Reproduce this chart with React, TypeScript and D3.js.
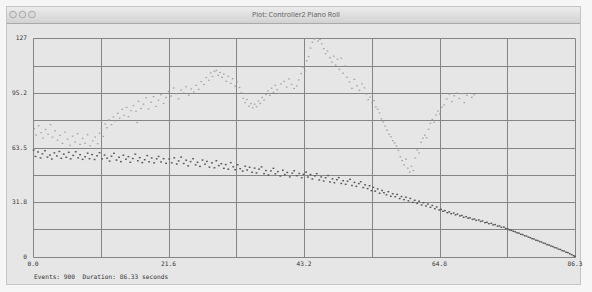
import React from 'react';
import * as d3 from 'd3';

// chart values
const duration = 86.33;
const maxValue = 127;
const xTickLabels = ['0.0', '21.6', '43.2', '64.8', '86.3'];
const yTickLabels = ['0', '31.8', '63.5', '95.2', '127'];
const footer = 'Events: 900  Duration: 86.33 seconds';
const windowTitle = 'Plot: Controller2 Piano Roll';

// upper (lighter) controller stream: [time, value]
const upperEvents: [number, number][] = [
  [0.2, 74.5], [0.5, 70.8], [0.9, 76.2], [1.3, 72.1], [1.6, 68.9], [2.0, 74.0], [2.4, 71.3], [2.8, 76.8], [3.1, 69.5],
  [3.5, 73.2], [3.9, 67.8], [4.3, 70.6], [4.7, 65.9], [5.1, 72.4], [5.5, 68.3], [5.9, 64.8], [6.3, 70.1], [6.7, 66.7],
  [7.1, 71.5], [7.5, 65.3], [7.9, 68.8], [8.3, 66.0], [8.7, 70.9], [9.1, 64.5], [9.5, 67.4], [9.9, 69.6], [10.3, 65.7],
  [10.6, 71.8], [10.9, 74.6], [11.2, 69.9], [11.5, 77.2], [11.8, 75.0], [12.1, 79.6], [12.5, 76.8], [12.8, 81.3],
  [13.1, 78.9], [13.5, 83.4], [13.8, 80.6], [14.2, 85.7], [14.5, 82.2], [14.9, 86.8], [15.2, 81.5], [15.6, 84.9],
  [16.0, 87.9], [16.4, 84.6], [16.6, 78.0], [16.8, 90.3], [17.2, 86.2], [17.6, 88.7], [18.0, 92.4], [18.4, 85.9],
  [18.8, 89.8], [19.2, 93.1], [19.6, 87.4], [20.0, 91.0], [20.4, 94.2], [20.8, 89.1],
  [21.2, 92.6], [21.6, 96.0], [22.0, 93.4], [22.4, 98.1], [22.8, 94.7], [23.2, 91.8], [23.6, 96.9], [24.0, 95.2],
  [24.4, 98.8], [24.8, 93.9], [25.2, 97.5], [25.6, 95.8],
  [26.0, 99.6], [26.4, 97.3], [26.8, 101.8], [27.2, 100.1], [27.6, 104.2], [28.0, 102.6],
  [28.3, 106.9], [28.6, 104.8], [28.9, 107.8], [29.2, 108.3], [29.5, 105.5], [29.8, 107.1],
  [30.1, 104.3], [30.4, 106.2], [30.8, 102.0], [31.1, 104.9], [31.5, 100.8], [31.8, 103.5], [32.2, 99.2], [32.5, 101.7], [32.9, 98.4],
  [33.2, 95.3], [33.5, 92.1], [33.8, 89.6], [34.1, 91.4], [34.4, 87.5], [34.7, 89.0], [35.0, 86.6], [35.3, 88.7],
  [35.6, 87.2], [35.9, 90.5], [36.2, 89.1], [36.5, 92.6], [36.8, 91.0], [37.1, 94.3],
  [37.4, 96.4], [37.7, 93.8], [38.0, 98.0], [38.3, 95.6], [38.6, 99.7], [38.9, 97.1], [39.2, 95.0], [39.5, 100.5],
  [40.0, 101.9], [40.4, 98.6], [40.8, 103.4], [41.2, 100.2], [41.6, 97.8], [42.0, 99.3], [42.3, 102.8],
  [42.7, 106.5], [43.0, 110.2], [43.3, 108.1], [43.6, 113.9], [43.9, 116.4],
  [44.2, 121.3], [44.5, 124.7], [44.8, 126.6], [45.1, 127.0], [45.4, 125.4], [45.7, 126.3], [46.0, 123.8],
  [46.3, 121.0], [46.6, 118.1], [46.9, 119.6], [47.3, 115.7], [47.6, 113.2], [47.9, 116.6],
  [48.2, 111.4], [48.5, 114.8], [48.8, 109.0], [49.1, 115.5], [49.4, 106.7], [49.7, 110.9],
  [50.0, 104.3], [50.4, 101.6], [50.8, 97.9], [51.2, 103.1], [51.6, 99.4], [52.0, 96.8], [52.4, 100.5], [52.8, 98.2],
  [53.1, 94.6], [53.4, 91.3], [53.7, 92.8], [54.0, 89.5], [54.3, 90.7], [54.6, 87.1], [54.9, 85.8], [55.2, 83.6],
  [55.5, 80.2], [55.8, 78.4], [56.1, 75.9], [56.4, 73.6], [56.7, 71.2], [57.0, 69.8], [57.3, 67.5], [57.6, 66.1], [57.9, 64.3],
  [58.2, 61.8], [58.5, 58.2], [58.8, 55.9], [59.1, 53.4], [59.4, 56.7], [59.7, 51.5], [60.0, 49.2], [60.3, 52.6], [60.6, 50.1],
  [60.9, 57.4], [61.2, 62.0], [61.5, 60.3], [61.8, 66.5], [62.1, 68.9], [62.4, 70.7], [62.7, 69.2], [63.0, 74.1],
  [63.3, 77.6], [63.6, 79.8], [63.9, 78.2], [64.2, 82.4], [64.5, 84.7], [64.8, 83.0], [65.1, 86.9],
  [65.5, 88.3], [65.9, 91.7], [66.3, 94.5], [66.7, 90.2], [67.1, 93.6], [67.5, 95.1], [67.9, 92.0], [68.3, 94.8],
  [68.7, 89.6], [69.1, 93.9], [69.5, 95.0], [69.9, 92.7], [70.3, 94.2],
];

// lower (darker) controller stream: [time, value]
const lowerEvents: [number, number][] = [
  [0.1, 62.0], [0.4, 58.3], [0.8, 60.9], [1.2, 57.4], [1.5, 59.8], [1.9, 61.6], [2.3, 57.9], [2.7, 59.1], [3.0, 56.8],
  [3.4, 60.4], [3.8, 58.6], [4.2, 61.2], [4.5, 57.2], [4.9, 59.6], [5.3, 57.8], [5.7, 60.7], [6.0, 56.9], [6.4, 58.9],
  [6.8, 61.0], [7.2, 57.5], [7.5, 59.3], [7.9, 56.6], [8.3, 58.1], [8.7, 60.2], [9.0, 57.0], [9.4, 59.4], [9.8, 56.5],
  [10.2, 58.7], [10.6, 60.5],
  [11.0, 56.9], [11.4, 59.1], [11.8, 57.3], [12.2, 55.6], [12.5, 58.4], [12.9, 60.1], [13.3, 56.2], [13.7, 57.8],
  [14.0, 55.3], [14.4, 59.0], [14.8, 56.7], [15.2, 58.2], [15.5, 54.9], [15.9, 57.1], [16.3, 59.6], [16.7, 55.8],
  [17.0, 57.6], [17.4, 54.7], [17.8, 56.4], [18.2, 58.8], [18.5, 55.2], [18.9, 57.4], [19.3, 54.6], [19.7, 56.9],
  [20.0, 58.3], [20.4, 55.1], [20.8, 57.0], [21.2, 54.3],
  [21.7, 56.8], [22.1, 54.6], [22.5, 57.5], [22.9, 53.9], [23.2, 55.7], [23.6, 57.9], [24.0, 54.2], [24.4, 56.1],
  [24.7, 52.8], [25.1, 55.3], [25.5, 57.0], [25.9, 53.4], [26.2, 54.9], [26.6, 52.5], [27.0, 56.2], [27.4, 53.8],
  [27.7, 55.4], [28.1, 52.1], [28.5, 54.6], [28.9, 51.7], [29.2, 55.8], [29.6, 53.0], [30.0, 54.1], [30.4, 51.4],
  [30.7, 53.6], [31.1, 50.9], [31.5, 54.7], [31.9, 52.3], [32.2, 50.6],
  [32.6, 53.5], [33.0, 51.2], [33.4, 49.8], [33.8, 52.6], [34.1, 50.4], [34.5, 52.0], [34.9, 49.1], [35.3, 51.5],
  [35.6, 48.7], [36.0, 50.9], [36.4, 52.2], [36.8, 48.3], [37.1, 50.1], [37.5, 47.6], [37.9, 49.9], [38.3, 51.4],
  [38.6, 48.2], [39.0, 49.5], [39.4, 46.9], [39.8, 50.3], [40.1, 47.8], [40.5, 49.0], [40.9, 46.4], [41.3, 48.6],
  [41.6, 50.0], [42.0, 47.1], [42.4, 48.4], [42.8, 45.9], [43.1, 47.9],
  [43.5, 49.2], [43.8, 46.3], [44.2, 47.8], [44.5, 45.2], [44.9, 47.0], [45.2, 48.3], [45.6, 44.6], [45.9, 46.4],
  [46.3, 44.0], [46.6, 45.9], [47.0, 47.2], [47.3, 43.5], [47.7, 45.3], [48.0, 43.0], [48.4, 44.8], [48.7, 46.0],
  [49.1, 42.6], [49.4, 44.2], [49.8, 42.1], [50.1, 43.9], [50.5, 45.0], [50.8, 41.4], [51.2, 43.2], [51.5, 40.9],
  [51.9, 42.5], [52.2, 43.6], [52.6, 40.2], [52.9, 41.8], [53.3, 39.6], [53.6, 41.3], [53.9, 38.4],
  [54.2, 40.3], [54.5, 38.1], [54.9, 39.4], [55.2, 36.9], [55.6, 38.5], [55.9, 37.2], [56.3, 36.0], [56.6, 37.8],
  [57.0, 35.1], [57.3, 36.6], [57.7, 34.9], [58.0, 36.2], [58.4, 33.8], [58.7, 35.0], [59.1, 33.2], [59.4, 34.6],
  [59.8, 32.5], [60.1, 33.9], [60.5, 31.6], [60.8, 32.8], [61.2, 31.0], [61.5, 32.3], [61.9, 30.1], [62.2, 31.4],
  [62.6, 29.5], [62.9, 30.6], [63.3, 28.7], [63.6, 29.8], [64.0, 27.9], [64.3, 28.9], [64.7, 27.2],
  [65.0, 27.5], [65.3, 26.4], [65.6, 26.8], [66.0, 25.6], [66.3, 26.1], [66.6, 25.0], [67.0, 25.4], [67.3, 24.3],
  [67.6, 24.8], [68.0, 23.7], [68.3, 24.0], [68.6, 22.9], [69.0, 23.3], [69.3, 22.4], [69.6, 22.6], [70.0, 21.7],
  [70.3, 21.9], [70.6, 21.1], [71.0, 21.4], [71.3, 20.5], [71.6, 20.8], [72.0, 19.8], [72.3, 20.0], [72.6, 19.2],
  [73.0, 19.4], [73.3, 18.5], [73.6, 18.7], [74.0, 17.8], [74.3, 17.9], [74.6, 17.1], [75.0, 17.2], [75.3, 16.4],
  [75.6, 16.2], [75.9, 15.5], [76.2, 15.3], [76.5, 14.8], [76.8, 14.5], [77.1, 13.9], [77.4, 13.7], [77.7, 13.0],
  [78.0, 12.9], [78.3, 12.2], [78.6, 12.0], [78.9, 11.4], [79.2, 11.1], [79.5, 10.5], [79.8, 10.3], [80.1, 9.6],
  [80.4, 9.4], [80.7, 8.8], [81.0, 8.5], [81.3, 7.9], [81.6, 7.7], [81.9, 7.0], [82.2, 6.8], [82.5, 6.2],
  [82.8, 5.9], [83.1, 5.3], [83.4, 5.1], [83.7, 4.4], [84.0, 4.2], [84.3, 3.5], [84.6, 3.3], [84.9, 2.6],
  [85.2, 2.4], [85.5, 1.7], [85.8, 1.2], [86.1, 0.6], [86.3, 0.2],
];

const W = 592;
const H = 292;
const plot = { left: 33, right: 575, top: 38.3, bottom: 256.7 };
const mono = '"DejaVu Sans Mono", "Liberation Mono", monospace';

// snap a coordinate to the pixel grid so 1px lines stay sharp
const crisp = (v: number) => Math.round(v) + 0.5;

export default function App() {
  const x = d3.scaleLinear().domain([0, duration]).range([plot.left, plot.right]);
  const y = d3.scaleLinear().domain([0, maxValue]).range([plot.bottom, plot.top]);

  // 8 grid cells each way, labels on every other line
  const gridX = d3.range(9).map(i => (duration * i) / 8);
  const gridY = d3.range(9).map(i => (maxValue * i) / 8);

  return (
    <svg width={W} height={H} style={{ position: 'absolute', left: 0, top: 0 }}>
      <defs>
        <linearGradient id="titlebar" x1="0" y1="0" x2="0" y2="1">
          <stop offset="0" stopColor="#ececec" />
          <stop offset="1" stopColor="#d2d2d2" />
        </linearGradient>
      </defs>
      <rect width={W} height={H} fill="#f6f6f6" />

      {/* window */}
      <rect x={6.5} y={6.5} width={574} height={278} fill="#e6e6e6" stroke="#c4c4c4" />
      <rect x={7} y={7} width={573} height={16} fill="url(#titlebar)" />
      <line x1={7} x2={580} y1={23.5} y2={23.5} stroke="#a9a9a9" />
      {[13, 22.5, 32].map(cx => (
        <circle key={cx} cx={cx} cy={14.5} r={3.4} fill="#d9d9d9" stroke="#9d9d9d" strokeWidth={0.8} />
      ))}
      <text x={296} y={17} textAnchor="middle" fontFamily='"Noto Sans", "DejaVu Sans", sans-serif'
        fontSize={7} fill="#666">{windowTitle}</text>

      {/* grid */}
      <g stroke="#858585" strokeWidth={1}>
        {gridX.map((t, i) => (
          <line key={'gx' + i} x1={crisp(x(t))} x2={crisp(x(t))} y1={crisp(plot.top)} y2={crisp(plot.bottom)} />
        ))}
        {gridY.map((v, i) => (
          <line key={'gy' + i} x1={crisp(plot.left)} x2={crisp(plot.right)} y1={crisp(y(v))} y2={crisp(y(v))} />
        ))}
      </g>

      {/* events */}
      <g fill="#a0a0a0">
        {upperEvents.map(([t, v], i) => (
          <rect key={'u' + i} x={x(t) - 0.8} y={y(v) - 0.6} width={1.6} height={1.2} />
        ))}
      </g>
      <g fill="#555">
        {lowerEvents.map(([t, v], i) => (
          <rect key={'l' + i} x={x(t) - 0.9} y={y(v) - 0.7} width={1.8} height={1.4} />
        ))}
      </g>

      {/* labels */}
      <g fontFamily={mono} fontSize={6.2} fill="#333">
        {yTickLabels.map((s, i) => (
          <text key={'yl' + i} x={plot.left - 6} y={y(gridY[i * 2]) + 2} textAnchor="end">{s}</text>
        ))}
        {xTickLabels.map((s, i) => (
          <text key={'xl' + i} x={x(gridX[i * 2])} y={266} textAnchor="middle">{s}</text>
        ))}
        <text x={plot.left + 1} y={279} style={{ whiteSpace: 'pre' }}>{footer}</text>
      </g>
    </svg>
  );
}
